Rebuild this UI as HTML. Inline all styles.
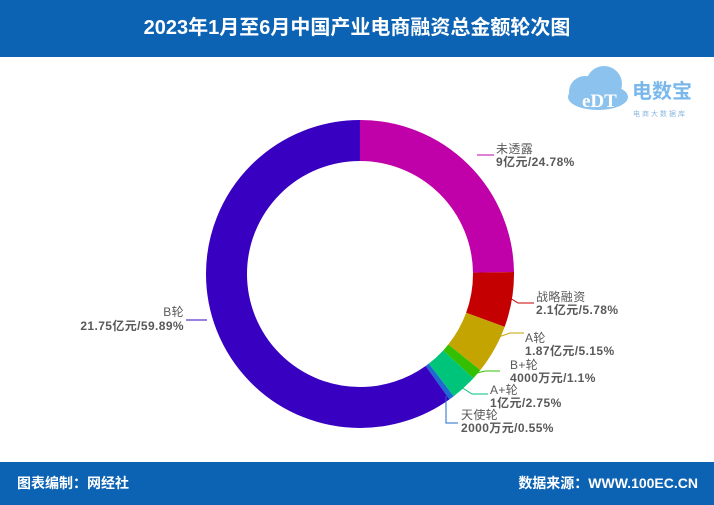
<!DOCTYPE html>
<html><head><meta charset="utf-8"><style>
body{margin:0;width:714px;height:505px;overflow:hidden;background:#fff;font-family:"Liberation Sans","Noto Sans CJK SC",sans-serif}
.h{position:absolute;left:0;top:0;width:714px;height:57px;background:#0c62b3;color:#fff;font-weight:bold;font-size:20px;text-align:center;line-height:56px}
.f{position:absolute;left:0;top:462px;width:714px;height:43px;background:#0c62b3;color:#fff;font-weight:bold;font-size:14px;line-height:43px}
</style></head><body>
<div class="h">2023年1月至6月中国产业电商融资总金额轮次图</div>
<svg style="position:absolute;left:0;top:0" width="714" height="505">
<g font-family="Liberation Sans,Noto Sans CJK SC,sans-serif">
<circle cx="585" cy="92" r="16" fill="#8cc3ee"/>
<circle cx="604" cy="84" r="18" fill="#8cc3ee"/>
<ellipse cx="598" cy="97" rx="30" ry="13" fill="#8cc3ee"/>
<text x="582" y="107" font-size="19" font-weight="bold" fill="#fff" font-family="Liberation Serif,serif">eDT</text>
<text x="632" y="98" font-size="20" font-weight="bold" fill="#7ab8ec">电数宝</text>
<text x="633" y="116" font-size="7" fill="#8ab8e0" letter-spacing="2">电商大数据库</text>
</g>
<g transform="rotate(-90 360 274)" fill="none" stroke-width="41">
<circle cx="360" cy="274" r="133.5" stroke="#c000a8" stroke-dasharray="207.9 1000" stroke-dashoffset="0"/>
<circle cx="360" cy="274" r="133.5" stroke="#c40000" stroke-dasharray="48.5 1000" stroke-dashoffset="-207.9"/>
<circle cx="360" cy="274" r="133.5" stroke="#c4a400" stroke-dasharray="43.2 1000" stroke-dashoffset="-256.4"/>
<circle cx="360" cy="274" r="133.5" stroke="#34c000" stroke-dasharray="9.2 1000" stroke-dashoffset="-299.6"/>
<circle cx="360" cy="274" r="133.5" stroke="#00c47a" stroke-dasharray="23.1 1000" stroke-dashoffset="-308.8"/>
<circle cx="360" cy="274" r="133.5" stroke="#1c6ad0" stroke-dasharray="4.6 1000" stroke-dashoffset="-331.9"/>
<circle cx="360" cy="274" r="133.5" stroke="#3800c0" stroke-dasharray="502.4 1000" stroke-dashoffset="-336.5"/>
</g>
<g fill="none" stroke-width="1">
<polyline points="477,155 494,155" stroke="#c000a8"/>
<polyline points="510,298 518,303 534,303" stroke="#c40000"/>
<polyline points="490,340 510,333 524,333" stroke="#c4a400"/>
<polyline points="473,374 485,371 500,371" stroke="#34c000"/>
<polyline points="461,387 472,394 488,394" stroke="#00c47a"/>
<polyline points="446,396 446,423 458,423" stroke="#1c6ad0"/>
<polyline points="207,320 194,320 186,320" stroke="#3800c0"/>
</g>
<g font-family="Liberation Sans,Noto Sans CJK SC,sans-serif" font-size="12" fill="#595959" letter-spacing="0.4">
<text x="496" y="153">未透露</text><text x="496" y="166" font-weight="bold">9亿元/24.78%</text>
<text x="536" y="301">战略融资</text><text x="536" y="314" font-weight="bold">2.1亿元/5.78%</text>
<text x="525" y="342">A轮</text><text x="525" y="355" font-weight="bold">1.87亿元/5.15%</text>
<text x="510" y="369">B+轮</text><text x="510" y="382" font-weight="bold">4000万元/1.1%</text>
<text x="490" y="394">A+轮</text><text x="490" y="407" font-weight="bold">1亿元/2.75%</text>
<text x="461" y="419">天使轮</text><text x="461" y="432" font-weight="bold">2000万元/0.55%</text>
<text x="184" y="316" text-anchor="end">B轮</text><text x="184" y="330" text-anchor="end" font-weight="bold">21.75亿元/59.89%</text>
</g>
</svg>
<div class="f"><span style="position:absolute;left:17px">图表编制：网经社</span><span style="position:absolute;right:16px">数据来源：WWW.100EC.CN</span></div>
</body></html>
